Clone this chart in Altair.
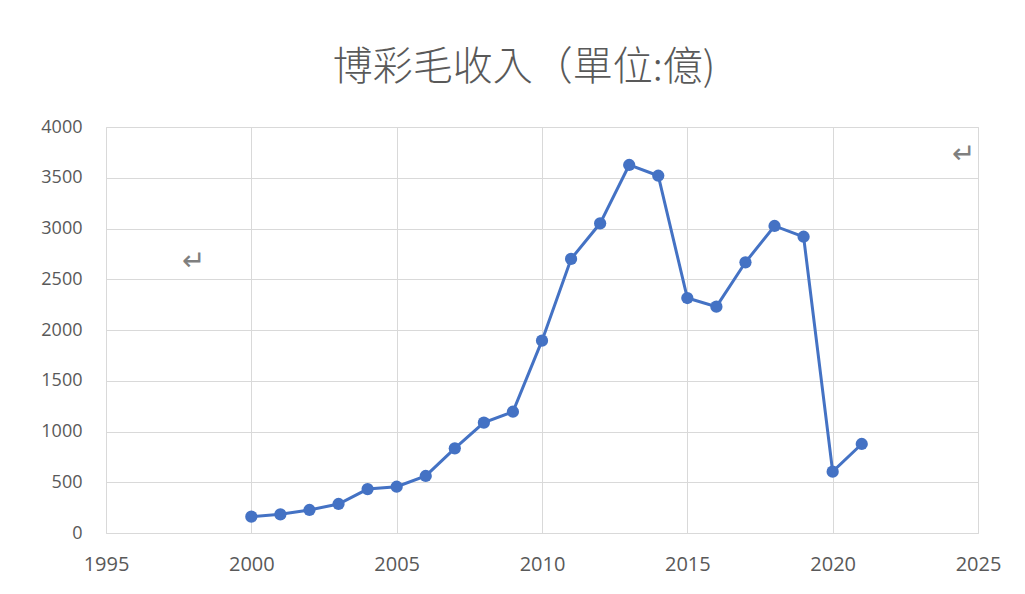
import altair as alt
import pandas as pd

years = list(range(2000, 2022))
revenue = [161, 184, 227, 286, 433, 456, 562, 834, 1087, 1195, 1895, 2700,
           3051, 3626, 3520, 2315, 2230, 2667, 3025, 2919, 604, 877]

mark_x = [1998.0, 2024.5]
mark_y = [2670, 3724]
mark_t = ["↵", "↵"]

x_ticks = list(range(1995, 2026, 5))
y_ticks = list(range(0, 4001, 500))

df = pd.DataFrame({"year": years, "rev": revenue})
marks_df = pd.DataFrame({"x": mark_x, "y": mark_y, "t": mark_t})

FONT = "Open Sans"
GRAY = "#595959"

x_enc = alt.X("year:Q", scale=alt.Scale(domain=[1995, 2025], nice=False),
              axis=alt.Axis(values=x_ticks, format="d", title=None, grid=True,
                            ticks=False, domain=False, labelPadding=21,
                            labelFontSize=20, labelColor=GRAY, labelFont=FONT,
                            gridColor="#d9d9d9", labelFlush=False))
y_enc = alt.Y("rev:Q", scale=alt.Scale(domain=[0, 4000], nice=False),
              axis=alt.Axis(values=y_ticks, format="d", title=None, grid=True, ticks=False,
                            domain=False, labelPadding=24, labelFontSize=18,
                            labelColor=GRAY, labelFont=FONT, gridColor="#d9d9d9"))

line = alt.Chart(df).mark_line(color="#4472C4", strokeWidth=3,
                               point=alt.OverlayMarkDef(filled=True, size=150,
                                                        color="#4472C4", opacity=1)).encode(
    x=x_enc, y=y_enc)

marks = alt.Chart(marks_df).mark_text(fontSize=28, color="#7f7f7f", font="Open Sans").encode(
    x=alt.X("x:Q"), y=alt.Y("y:Q"), text="t:N")

chart = alt.layer(line, marks).properties(
    width=872, height=406,
    title=alt.TitleParams("博彩毛收入（單位:億)", font="Noto Sans CJK TC", fontSize=40,
                          fontWeight=300, color=GRAY, offset=30, anchor="middle", dx=-18),
    autosize=alt.AutoSizeParams(type="none"),
    padding={"left": 98, "top": 119, "right": 30, "bottom": 50},
).configure_view(stroke=None).configure(background="white")

chart.save("out.html", embed_options={"renderer": "svg", "actions": False})
